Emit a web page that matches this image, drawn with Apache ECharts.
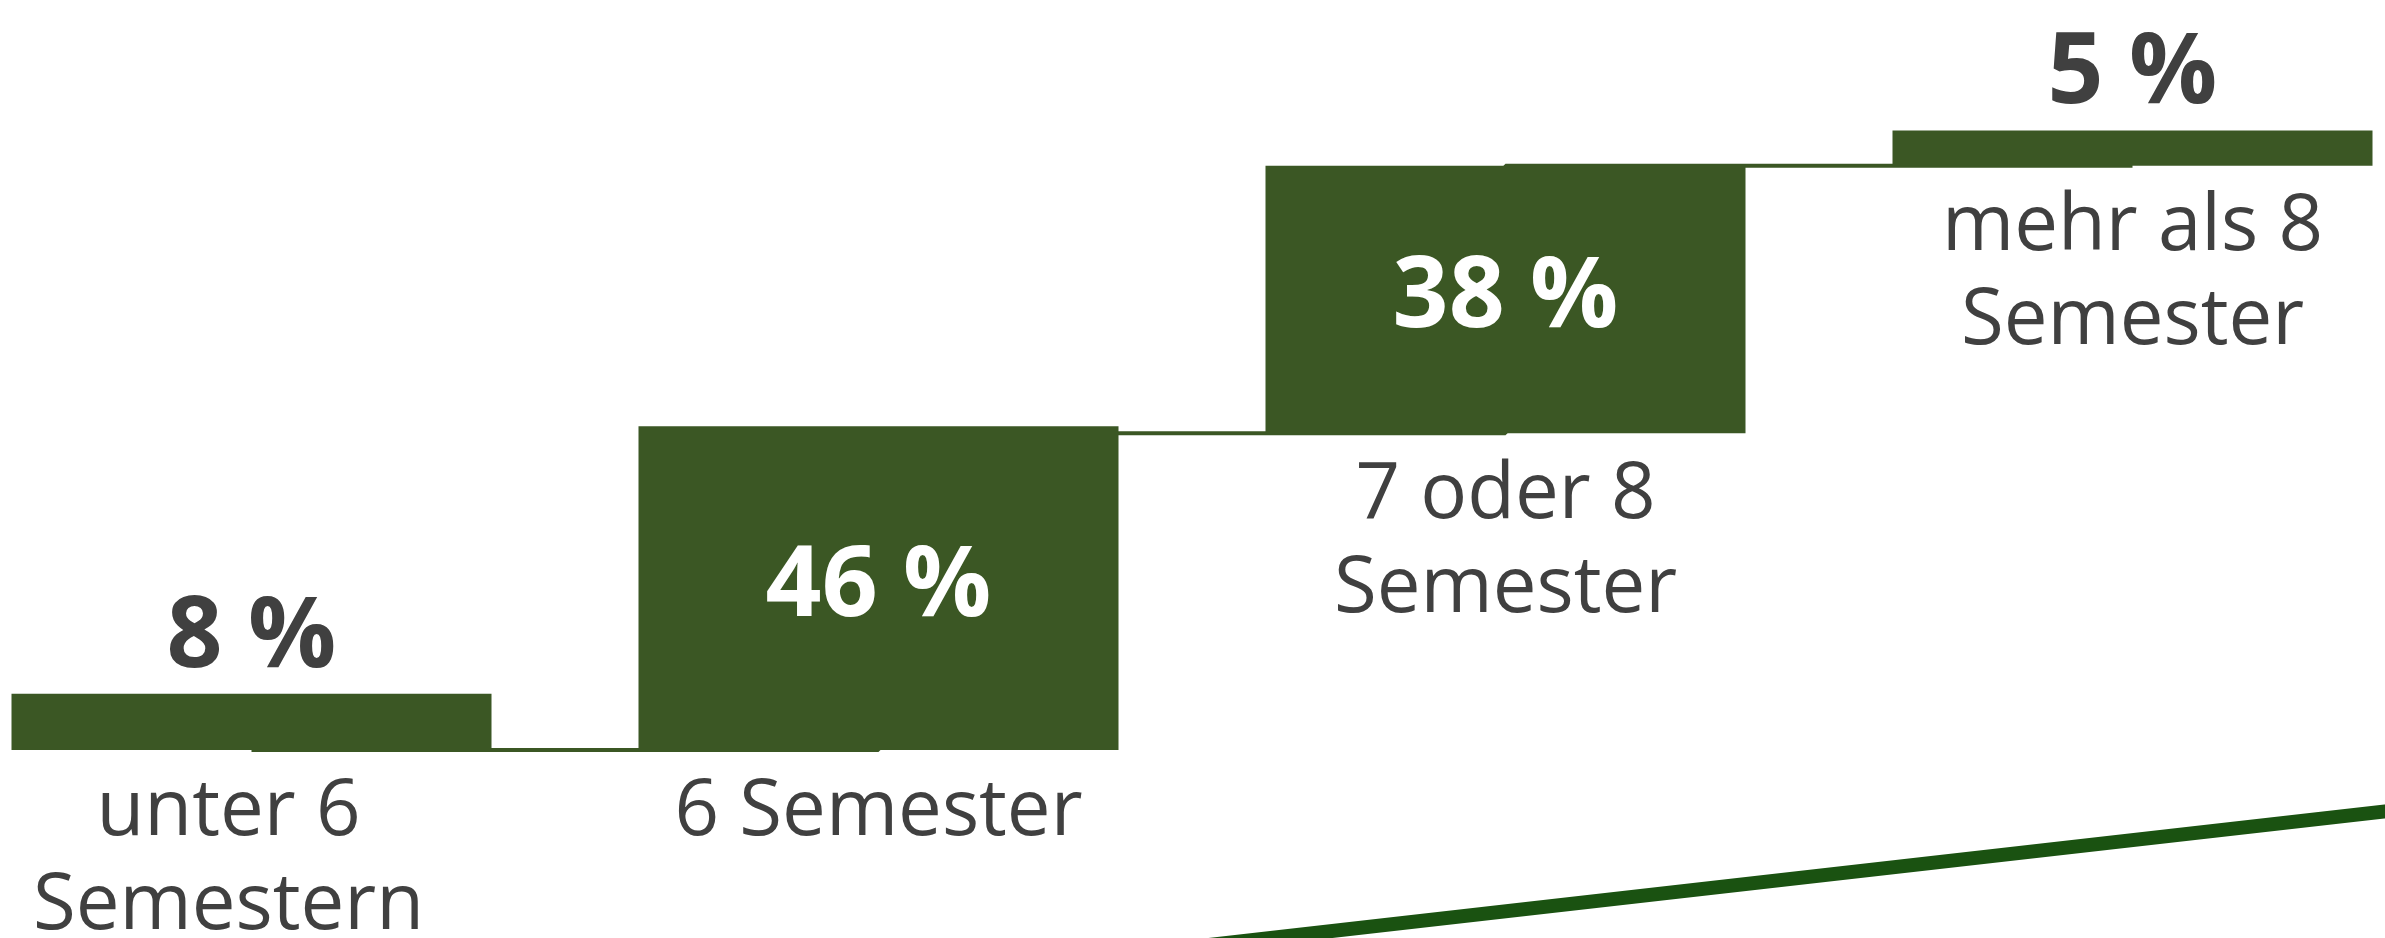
<!DOCTYPE html>
<html>
<head>
<meta charset="utf-8">
<script src="https://cdn.jsdelivr.net/npm/echarts@6/dist/echarts.min.js"></script>
<style>
  html, body { margin: 0; padding: 0; background: #fff; overflow: hidden; }
  /* Diagramm etwas breiter als das Fenster, damit die Stufen bis an den Rand reichen */
  #chart { width: 2508px; height: 938px; margin-left: -62px; }
</style>
</head>
<body>
<div id="chart"></div>
<script>
// Studiendauer - Anteil je Kategorie (Treppendiagramm)
var categories = ['unter 6\nSemestern', '6 Semester', '7 oder 8\nSemester', 'mehr als 8\nSemester'];
// Anteile in Prozent
var shares = [8, 46, 38, 5];
// Sockel, auf dem jede Stufe steht
var offsets = [0, 0, 45, 83];

var barColor = '#3b5724';
var textColor = '#404040';

// Verbindungslinien: jeweils auf Höhe des Sockels der nächsten Stufe
var connectors = offsets.map(function (v, i) {
    return i < offsets.length - 1 ? offsets[i + 1] : offsets[i];
});

var myChart = echarts.init(document.getElementById('chart'));

var option = {
    animation: false,
    backgroundColor: '#ffffff',
    grid: { left: 0, right: 0, top: 46, bottom: 188 },
    xAxis: {
        type: 'category',
        data: categories,
        show: false
    },
    yAxis: {
        type: 'value',
        min: 0,
        max: 100,
        show: false
    },
    series: [
        {
            // Verbindungslinien zwischen den Stufen
            type: 'line',
            step: 'end',
            data: connectors,
            symbol: 'none',
            z: 1,
            lineStyle: { color: barColor, width: 4 },
            silent: true
        },
        {
            // unsichtbarer Sockel
            type: 'bar',
            stack: 'stufe',
            barWidth: 480,
            data: offsets,
            itemStyle: { color: 'transparent' },
            z: 2,
            silent: true
        },
        {
            type: 'bar',
            stack: 'stufe',
            barWidth: 480,
            z: 3,
            data: shares.map(function (v) {
                var inside = v > 20;
                return {
                    value: v,
                    label: {
                        show: true,
                        position: inside ? 'inside' : 'top',
                        distance: 6,
                        color: inside ? '#ffffff' : textColor
                    }
                };
            }),
            itemStyle: { color: barColor },
            label: {
                fontFamily: 'Open Sans',
                fontWeight: 'bold',
                fontSize: 98,
                formatter: function (p) { return p.value + ' %'; }
            }
        },
        {
            // Beschriftung unter jeder Stufe
            type: 'scatter',
            data: offsets.map(function (v, i) {
                // erste Beschriftung sitzt im Original etwas links von der Mitte
                return i === 0 ? { value: v, label: { offset: [-23, 0] } } : v;
            }),
            symbolSize: 1,
            itemStyle: { color: 'transparent', opacity: 1 },
            z: 4,
            label: {
                show: true,
                position: 'bottom',
                distance: 15,
                color: textColor,
                opacity: 1,
                fontFamily: 'Open Sans',
                fontSize: 78,
                lineHeight: 94,
                align: 'center',
                formatter: function (p) { return categories[p.dataIndex]; }
            },
            silent: true
        }
    ],
    graphic: [
        {
            type: 'line',
            shape: { x1: 1262, y1: 946, x2: 2512, y2: 804 },
            style: { stroke: '#1a5211', lineWidth: 14 },
            z: 10
        }
    ]
};

myChart.setOption(option, true);
</script>
</body>
</html>
